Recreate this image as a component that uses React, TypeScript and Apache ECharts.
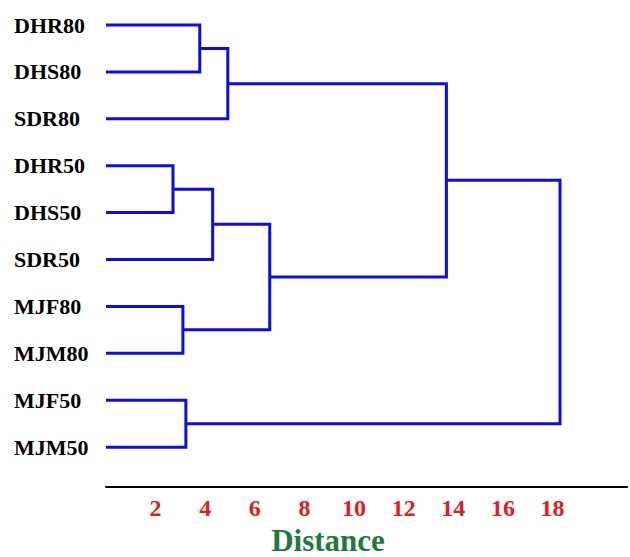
import React, { useEffect, useRef } from "react";
import * as echarts from "echarts";

// Leaves (top to bottom)
const leaves = ["DHR80", "DHS80", "SDR80", "DHR50", "DHS50", "SDR50", "MJF80", "MJM80", "MJF50", "MJM50"];
// Merges: node ids < 10 are leaves, >= 10 are earlier merges (10 + merge index)
const mergeLeft = [0, 10, 3, 12, 6, 13, 11, 8, 16];
const mergeRight = [1, 2, 4, 5, 7, 14, 15, 9, 17];
const mergeHeight = [3.78, 4.91, 2.7, 4.3, 3.1, 6.6, 13.72, 3.22, 18.3];
// Axis tick labels
const xTicks = [2, 4, 6, 8, 10, 12, 14, 16, 18];

const LINE_COLOR = "#0c0ce8";
const FONT = "'Liberation Serif', 'Times New Roman', serif";

function buildSegments() {
  const nodeX: number[] = leaves.map(() => 0);
  const nodeY: number[] = leaves.map((_, i) => i);
  const data: number[][] = [];
  mergeHeight.forEach((h, k) => {
    const a = mergeLeft[k];
    const b = mergeRight[k];
    data.push([nodeX[a], nodeY[a], nodeX[b], nodeY[b], h]);
    nodeX.push(h);
    nodeY.push((nodeY[a] + nodeY[b]) / 2);
  });
  return data;
}

export default function App() {
  const ref = useRef<HTMLDivElement>(null);
  useEffect(() => {
    if (!ref.current) return;
    const chart = echarts.init(ref.current, undefined, { renderer: "svg" });
    const segs = buildSegments();
    chart.setOption({
      animation: false,
      backgroundColor: "#ffffff",
      grid: { left: 106, right: 2, top: 1.55, bottom: 70 },
      xAxis: {
        type: "value",
        position: "bottom",
        min: 0,
        max: 21,
        interval: 2,
        axisLine: { show: true, onZero: false, lineStyle: { color: "#000", width: 2 } },
        axisTick: { show: false },
        splitLine: { show: false },
        axisLabel: {
          margin: 9,
          color: "#e31b23",
          fontWeight: "bold",
          fontSize: 24,
          fontFamily: FONT,
          formatter: (v: number) => (xTicks.indexOf(Math.round(v)) >= 0 && Math.abs(v - Math.round(v)) < 1e-6 ? String(Math.round(v)) : ""),
        },
      },
      yAxis: {
        type: "value",
        inverse: true,
        min: -0.5,
        max: 9.85,
        interval: 0.5,
        axisLine: { show: false, onZero: false },
        axisTick: { show: false },
        splitLine: { show: false },
        axisLabel: {
          margin: 92,
          align: "left",
          color: "#000",
          fontWeight: "bold",
          fontSize: 22,
          fontFamily: FONT,
          formatter: (v: number) => {
            const r = Math.round(v);
            if (Math.abs(v - r) > 1e-6 || r < 0 || r >= leaves.length) return "";
            return leaves[r];
          },
        },
      },
      series: [
        {
          type: "custom",
          clip: false,
          data: segs,
          dimensions: ["x1", "y1", "x2", "y2", "h"],
          encode: { x: [0, 2, 4], y: [1, 3] },
          renderItem: (params: any, api: any) => {
            const p1 = api.coord([api.value(0), api.value(1)]);
            const p2 = api.coord([api.value(2), api.value(3)]);
            const ph = api.coord([api.value(4), api.value(1)]);
            return {
              type: "polyline",
              shape: { points: [p1, [ph[0], p1[1]], [ph[0], p2[1]], p2] },
              style: { stroke: LINE_COLOR, lineWidth: 3, fill: "none" },
            };
          },
        },
      ],
      graphic: [
        {
          type: "text",
          x: 328,
          y: 540,
          style: {
            text: "Distance",
            fill: "#1e7b3b",
            font: `bold 31px ${FONT}`,
            textAlign: "center",
            textVerticalAlign: "middle",
          },
        },
      ],
    });
    return () => chart.dispose();
  }, []);
  return <div ref={ref} style={{ position: "fixed", left: 0, top: 0, width: 630, height: 557 }} />;
}
